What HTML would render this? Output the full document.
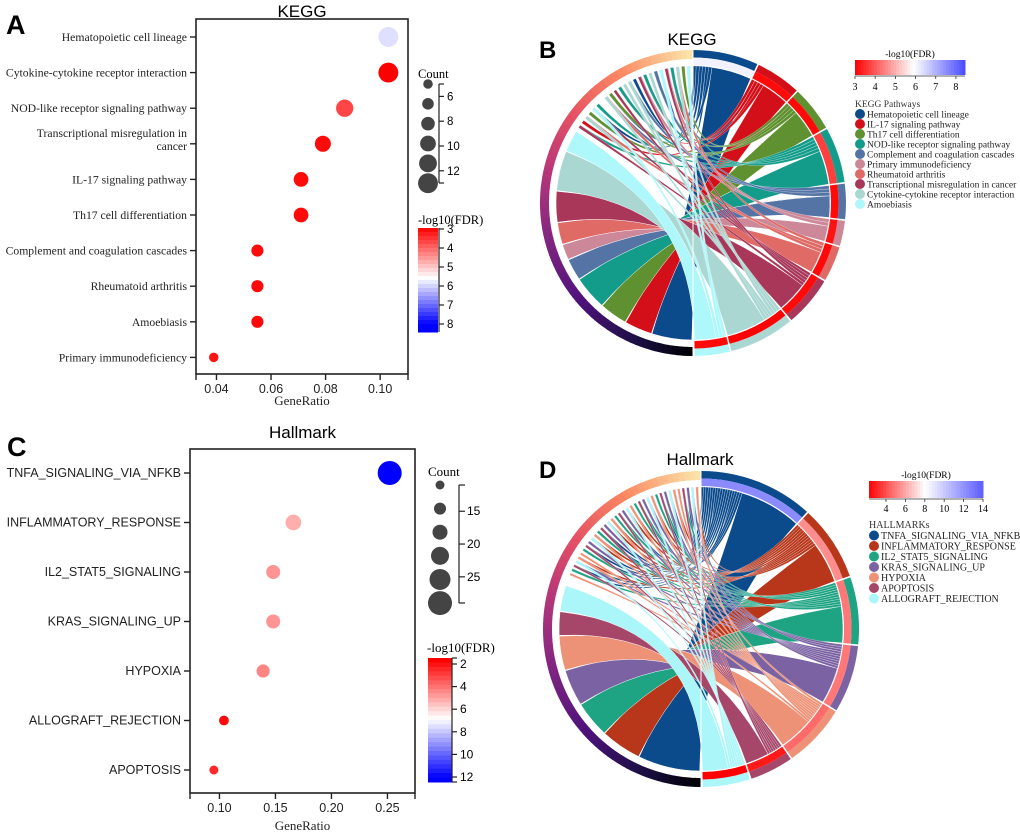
<!DOCTYPE html>
<html><head><meta charset="utf-8"><style>
html,body{margin:0;padding:0;background:#fff;}
svg{display:block;}
.ser{font-family:"Liberation Serif",serif;}
.san{font-family:"Liberation Sans",sans-serif;}
</style></head><body>
<svg id="fig" width="1020" height="838" viewBox="0 0 1020 838" xmlns="http://www.w3.org/2000/svg">
<text x="6" y="34" class="san" font-size="27" font-weight="bold">A</text>
<text x="539" y="58" class="san" font-size="24" font-weight="bold">B</text>
<text x="7" y="456" class="san" font-size="27" font-weight="bold">C</text>
<text x="539" y="478" class="san" font-size="24" font-weight="bold">D</text>
<g id="A"></g><g id="C"></g><g id="B"></g><g id="D"></g>
</svg>
<script>
// ---------- Panel A data ----------
const aTerms = ["Hematopoietic cell lineage","Cytokine-cytokine receptor interaction","NOD-like receptor signaling pathway","Transcriptional misregulation in|cancer","IL-17 signaling pathway","Th17 cell differentiation","Complement and coagulation cascades","Rheumatoid arthritis","Amoebiasis","Primary immunodeficiency"];
const aRatio = [0.103,0.103,0.087,0.079,0.071,0.071,0.055,0.055,0.055,0.039];
const aCount = [13,13,11,10,9,9,7,7,7,5];
const aFdr = [5.9,3.0,3.7,3.1,3.1,3.1,3.1,3.1,3.1,3.2];
const aXTicks = [0.04,0.06,0.08,0.10];
const aCountTicks = [6,8,10,12];
const aFdrTicks = [3,4,5,6,7,8];
// ---------- Panel C data ----------
const cTerms = ["TNFA_SIGNALING_VIA_NFKB","INFLAMMATORY_RESPONSE","IL2_STAT5_SIGNALING","KRAS_SIGNALING_UP","HYPOXIA","ALLOGRAFT_REJECTION","APOPTOSIS"];
const cRatio = [0.252,0.166,0.148,0.148,0.139,0.104,0.095];
const cCount = [29,19,17,17,16,12,11];
const cFdr = [12.3,5.4,4.9,4.9,4.6,2.2,2.8];
const cXTicks = [0.10,0.15,0.20,0.25];
const cCountTicks = [15,20,25];
const cFdrTicks = [2,4,6,8,10,12];
// ---------- Panel B data ----------
const bNames = ["Hematopoietic cell lineage","IL-17 signaling pathway","Th17 cell differentiation","NOD-like receptor signaling pathway","Complement and coagulation cascades","Primary immunodeficiency","Rheumatoid arthritis","Transcriptional misregulation in cancer","Cytokine-cytokine receptor interaction","Amoebiasis"];
const bCounts = [13,9,9,11,7,5,7,10,13,7];
const bFdr = [6.1,3.1,3.1,3.7,3.1,3.2,3.1,3.1,3.0,3.1];
const bColors = ["#0b4a8b","#d3101a","#5f9131","#139c8a","#5574a6","#cc8899","#df6a66","#a8375a","#aad7d2","#aef8fb"];
// ---------- Panel D data ----------
const dNames = ["TNFA_SIGNALING_VIA_NFKB","INFLAMMATORY_RESPONSE","IL2_STAT5_SIGNALING","KRAS_SIGNALING_UP","HYPOXIA","APOPTOSIS","ALLOGRAFT_REJECTION"];
const dCounts = [29,19,17,17,16,11,12];
const dFdr = [12.3,5.4,4.9,4.9,4.6,2.8,2.2];
const dColors = ["#0b4a8b","#b8361a","#1ea383","#7b62a3","#ee9277","#a6476a","#aaf6f8"];

const NS="http://www.w3.org/2000/svg";
function mk(parent,tag,attrs,txt){const e=document.createElementNS(NS,tag);for(const k in attrs)e.setAttribute(k,attrs[k]);if(txt!==undefined)e.textContent=txt;parent.appendChild(e);return e;}
function hex(c){return [parseInt(c.slice(1,3),16),parseInt(c.slice(3,5),16),parseInt(c.slice(5,7),16)];}
function mix(c1,c2,t){const a=hex(c1),b=hex(c2);return "rgb("+a.map((v,i)=>Math.round(v+(b[i]-v)*t)).join(",")+")";}
function divScale(v,lo,mid,hi,blue){if(v<=mid){return mix("#ff0000","#ffffff",Math.max(0,Math.min(1,(v-lo)/(mid-lo))));}return mix("#ffffff",blue,Math.max(0,Math.min(1,(v-mid)/(hi-mid))));}

function dotPlot(g,o){
  const {x0,x1,y0,y1,xmin,xmax,rows,terms,ratio,count,fdr,xticks,rad,col,labelCls,labelSize,title,titleY}=o;
  const xs=v=>x0+(v-xmin)/(xmax-xmin)*(x1-x0);
  const ys=i=>rows[0]+i*(rows[1]-rows[0]);
  const t=mk(g,"text",{x:(x0+x1)/2,y:titleY,"text-anchor":"middle","font-size":17,class:"san"},title);
  
  
  const box=mk(g,"rect",{x:x0,y:y0,width:x1-x0,height:y1-y0,fill:"none",stroke:"#222","stroke-width":1.6});
  
  
  mk(g,"line",{x1:x0,y1:y1,x2:x0,y2:y1+6,stroke:"#222","stroke-width":1.4});
  mk(g,"line",{x1:x1,y1:y1,x2:x1,y2:y1+6,stroke:"#222","stroke-width":1.4});
  xticks.forEach(v=>{
    const tk=mk(g,"line",{x1:xs(v),y1:y1,x2:xs(v),y2:y1+6,stroke:"#222","stroke-width":1.4});
    
    
    const tl=mk(g,"text",{x:xs(v),y:y1+19,"text-anchor":"middle","font-size":12.5,class:"san",fill:"#222"},v.toFixed(2));
    
    
  });
  const xt=mk(g,"text",{x:(x0+x1)/2,y:o.xTitleY,"text-anchor":"middle","font-size":13,class:"ser",fill:"#222"},"GeneRatio");
  
  
  terms.forEach((name,i)=>{
    const y=ys(i);
    const tk=mk(g,"line",{x1:x0-6,y1:y,x2:x0,y2:y,stroke:"#222","stroke-width":1.4});
    
    
    const parts=name.split("|");
    parts.forEach((p,k)=>{
      const yy = parts.length>1 ? y-7+k*13 : y+4;
      const tl=mk(g,"text",{x:x0-9,y:yy,"text-anchor":"end","font-size":labelSize,class:labelCls,fill:"#222"},p);
      
      
    });
    const c=mk(g,"circle",{cx:xs(ratio[i]),cy:y,r:rad(count[i]),fill:col(fdr[i])});
    
    
  });
}

// ===== Panel A =====
const gA=document.getElementById("A");
const radA=c=>1.5+0.65*c;
const colA=v=>divScale(v,3,5.6,8,"#0000ff");
dotPlot(gA,{x0:196,x1:408,y0:19,y1:374,xmin:0.0325,xmax:0.1102,rows:[37,72.6],terms:aTerms,ratio:aRatio,count:aCount,fdr:aFdr,xticks:aXTicks,rad:radA,col:colA,labelCls:"ser",labelSize:11.7,title:"KEGG",titleY:17,xTitleY:405});
(function(){
  const g=gA; const cy=c=>84+(c-5)*12.4;
  const ct=mk(g,"text",{x:418,y:78,"font-size":12.5,class:"ser"},"Count");
  
  
  [5,6.6,8.2,9.8,11.4,13].forEach(c=>{const e=mk(g,"circle",{cx:428,cy:cy(c),r:radA(c),fill:"#444"});});
  mk(g,"line",{x1:439,y1:84,x2:439,y2:183,stroke:"#222","stroke-width":1.2});
  mk(g,"line",{x1:439,y1:84,x2:444,y2:84,stroke:"#222","stroke-width":1.2});
  mk(g,"line",{x1:439,y1:183,x2:444,y2:183,stroke:"#222","stroke-width":1.2});
  aCountTicks.forEach(c=>{mk(g,"line",{x1:439,y1:cy(c),x2:444,y2:cy(c),stroke:"#222","stroke-width":1.2});
    const l=mk(g,"text",{x:447,y:cy(c)+4,"font-size":11.5,class:"san"},c);});
  const ft=mk(g,"text",{x:418,y:224,"font-size":12.5,class:"ser"},"-log10(FDR)");
  
  
  const top=228,bot=332,n=26;
  for(let k=0;k<n;k++){const v=3+(8.4-3)*(k+0.5)/n;mk(g,"rect",{x:418,y:top+k*(bot-top)/n,width:20,height:(bot-top)/n+0.5,fill:colA(v)});}
  const fy=v=>229+(v-3)*19;
  mk(g,"line",{x1:439,y1:top,x2:439,y2:bot,stroke:"#222","stroke-width":1.2});
  aFdrTicks.forEach(v=>{mk(g,"line",{x1:439,y1:fy(v),x2:444,y2:fy(v),stroke:"#222","stroke-width":1.2});
    const l=mk(g,"text",{x:447,y:fy(v)+4,"font-size":11.5,class:"san"},v);});
})();

// ===== Panel C =====
const gC=document.getElementById("C");
const radC=c=>4.5+(c-11)*0.417;
const colC=v=>divScale(v,2,7,12,"#0000ff");
dotPlot(gC,{x0:190,x1:415,y0:449,y1:793,xmin:0.0737,xmax:0.2746,rows:[473,522.5],terms:cTerms,ratio:cRatio,count:cCount,fdr:cFdr,xticks:cXTicks,rad:radC,col:colC,labelCls:"san",labelSize:12.5,title:"Hallmark",titleY:438,xTitleY:830});
(function(){
  const g=gC; const cy=c=>485+(c-11)*6.56;
  const ct=mk(g,"text",{x:428,y:476,"font-size":13,class:"ser"},"Count");
  
  
  [11,14.6,18.2,21.8,25.4,29].forEach(c=>{const e=mk(g,"circle",{cx:440,cy:cy(c),r:radC(c),fill:"#444"});});
  mk(g,"line",{x1:459,y1:485,x2:459,y2:603,stroke:"#222","stroke-width":1.2});
  mk(g,"line",{x1:459,y1:485,x2:465,y2:485,stroke:"#222","stroke-width":1.2});
  mk(g,"line",{x1:459,y1:603,x2:465,y2:603,stroke:"#222","stroke-width":1.2});
  cCountTicks.forEach(c=>{mk(g,"line",{x1:459,y1:cy(c),x2:465,y2:cy(c),stroke:"#222","stroke-width":1.2});
    const l=mk(g,"text",{x:467,y:cy(c)+4,"font-size":12,class:"san"},c);});
  const ft=mk(g,"text",{x:427,y:652,"font-size":13,class:"ser"},"-log10(FDR)");
  
  
  const top=658,bot=782,n=28;
  for(let k=0;k<n;k++){const v=1.8+(12.4-1.8)*(k+0.5)/n;mk(g,"rect",{x:428,y:top+k*(bot-top)/n,width:24,height:(bot-top)/n+0.5,fill:colC(v)});}
  const fy=v=>664+(v-2)*11.3;
  mk(g,"line",{x1:452,y1:top,x2:452,y2:bot,stroke:"#222","stroke-width":1.2});
  mk(g,"line",{x1:452,y1:top,x2:457,y2:top,stroke:"#222","stroke-width":1.2});
  mk(g,"line",{x1:452,y1:bot,x2:457,y2:bot,stroke:"#222","stroke-width":1.2});
  cFdrTicks.forEach(v=>{mk(g,"line",{x1:452,y1:fy(v),x2:457,y2:fy(v),stroke:"#222","stroke-width":1.2});
    const l=mk(g,"text",{x:460,y:fy(v)+4,"font-size":12,class:"san"},v);});
})();

// ===== Chord builder =====
const magma=[[0,"#000004"],[0.12,"#1c1044"],[0.27,"#4f127b"],[0.42,"#812581"],[0.57,"#b5367a"],[0.7,"#e55064"],[0.84,"#fb8761"],[1,"#fbe3a8"]];
function magmaAt(t){for(let i=1;i<magma.length;i++){if(t<=magma[i][0]){const a=magma[i-1],b=magma[i];return mix(a[1],b[1],(t-a[0])/(b[0]-a[0]));}}return magma[magma.length-1][1];}
function pt(cx,cy,r,a){const q=a*Math.PI/180;return (cx+r*Math.sin(q)).toFixed(2)+" "+(cy-r*Math.cos(q)).toFixed(2);}
function arcSeg(cx,cy,r0,r1,a0,a1){const lg=(a1-a0)>180?1:0;return "M"+pt(cx,cy,r1,a0)+"A"+r1+" "+r1+" 0 "+lg+" 1 "+pt(cx,cy,r1,a1)+"L"+pt(cx,cy,r0,a1)+"A"+r0+" "+r0+" 0 "+lg+" 0 "+pt(cx,cy,r0,a0)+"Z";}
function ribbon(cx,cy,r,a0,a1,b0,b1){return "M"+pt(cx,cy,r,a0)+"A"+r+" "+r+" 0 0 1 "+pt(cx,cy,r,a1)+"Q"+cx+" "+cy+" "+pt(cx,cy,r,b0)+"A"+r+" "+r+" 0 0 1 "+pt(cx,cy,r,b1)+"Q"+cx+" "+cy+" "+pt(cx,cy,r,a0)+"Z";}

function chord(g,o){
  const {cx,cy,R,counts,colors,fdrCol,thinStart,bigFrac}=o;
  const total=counts.reduce((a,b)=>a+b,0);
  const gap=0.6, span=180-gap*counts.length;
  const rr=R-16;
  let a=0; const segs=[];
  counts.forEach((c,i)=>{const w=c/total*span;segs.push([a,a+w]);a+=w+gap;});
  let b=180.5; const bigs=[];
  segs.forEach(([s,e])=>{const w=(e-s)*bigFrac;bigs.push([b,b+w]);b+=w+0.3;});
  segs.forEach(([s,e],i)=>{
    const m=e-(e-s)*bigFrac;
    const p=mk(g,"path",{d:ribbon(cx,cy,rr,m,e,bigs[i][0],bigs[i][1]),fill:colors[i],stroke:"#fff","stroke-width":0.5});
    
    
  });
  const G=o.slots, slotW=(359.5-thinStart)/G;
  segs.forEach(([s,e],i)=>{
    const m=e-(e-s)*bigFrac;
    const n=Math.max(2,Math.round(counts[i]*o.thinPer));
    const w=(m-s)/n;
    for(let j=0;j<n;j++){
      const slot=(i*7+j*5+3)%G;
      const g0=thinStart+slot*slotW+slotW*0.15;
      const tw=Math.min(w,slotW*0.7);
      const p=mk(g,"path",{d:ribbon(cx,cy,rr,s+j*w,s+(j+1)*w,g0,g0+tw),fill:colors[i],stroke:"#fff","stroke-width":0.25});
      
      
    }
  });
  const N=90;
  for(let k=0;k<N;k++){const a0=180+k*179.6/N,a1=180+(k+1)*179.6/N+0.3;
    const p=mk(g,"path",{d:arcSeg(cx,cy,R-9,R,a0,a1),fill:magmaAt(k/(N-1))});
    
    
  }
  segs.forEach(([s,e],i)=>{
    const p1=mk(g,"path",{d:arcSeg(cx,cy,R-7.5,R,s,e),fill:colors[i]});
    
    
    const p2=mk(g,"path",{d:arcSeg(cx,cy,R-15,R-7.5,s,e),fill:fdrCol(i)});
    
    
  });
  mk(g,"line",{x1:cx,y1:cy-R,x2:cx,y2:cy+R,stroke:"#fff","stroke-width":1});
}
function chordLegend(g,o){
  const {x,y0,names,colors,header,cbx,cbw,cby,cbh,ticks,tlo,thi,col,tickY,step,fs}=o;
  const t=mk(g,"text",{x:cbx+cbw/2,y:cby-3,"text-anchor":"middle","font-size":9.5,class:"ser"},"-log10(FDR)");
  
  
  const n=40;
  for(let k=0;k<n;k++){const v=tlo+(thi-tlo)*(k+0.5)/n;mk(g,"rect",{x:cbx+k*cbw/n,y:cby,width:cbw/n+0.5,height:cbh,fill:col(v)});}
  mk(g,"line",{x1:cbx,y1:cby+cbh+1,x2:cbx+cbw,y2:cby+cbh+1,stroke:"#333","stroke-width":0.8});
  ticks.forEach(v=>{const xx=cbx+(v-tlo)/(thi-tlo)*cbw;mk(g,"line",{x1:xx,y1:cby+cbh+1,x2:xx,y2:cby+cbh+4,stroke:"#333","stroke-width":0.8});
    const l=mk(g,"text",{x:xx,y:tickY,"text-anchor":"middle","font-size":10,class:"ser"},v);});
  const h=mk(g,"text",{x:x-5,y:y0,"font-size":fs,class:"ser",fill:"#333"},header);
  
  
  names.forEach((nm,i)=>{
    const yy=y0+(i+1)*step;
    const c=mk(g,"circle",{cx:x,cy:yy-3,r:5,fill:colors[i]});
    
    
    const tx=mk(g,"text",{x:x+7,y:yy+0.5,"font-size":fs,class:"ser",fill:"#222"},nm);
    
    
  });
}

// ===== Panel B =====
const gB=document.getElementById("B");
const colB=v=>divScale(v,3,5.9,8.6,"#4040ff");
{const t=mk(gB,"text",{x:692,y:45,"text-anchor":"middle","font-size":17,class:"san"},"KEGG");}
chord(gB,{cx:693,cy:203,R:153,counts:bCounts,colors:bColors,fdrCol:i=>colB(bFdr[i]),thinStart:303,bigFrac:0.68,slots:24,thinPer:0.45});
chordLegend(gB,{x:860,y0:107,names:bNames,colors:bColors,header:"KEGG Pathways",cbx:855,cbw:110,cby:60,cbh:15,ticks:[3,4,5,6,7,8],tlo:3,thi:8.45,col:colB,tickY:90,step:10,fs:9.5});

// ===== Panel D =====
const gD=document.getElementById("D");
const colD=v=>divScale(v,2.2,8,14.5,"#4f4fff");
{const t=mk(gD,"text",{x:700,y:465,"text-anchor":"middle","font-size":17,class:"san"},"Hallmark");}
chord(gD,{cx:701,cy:629,R:158,counts:dCounts,colors:dColors,fdrCol:i=>colD(dFdr[i]),thinStart:292,bigFrac:0.6,slots:36,thinPer:0.6});
chordLegend(gD,{x:874,y0:528,names:dNames,colors:dColors,header:"HALLMARKs",cbx:869,cbw:114,cby:481,cbh:17,ticks:[4,6,8,10,12,14],tlo:2.25,thi:14,col:colD,tickY:512,step:10.5,fs:10});
</script>
</body></html>
